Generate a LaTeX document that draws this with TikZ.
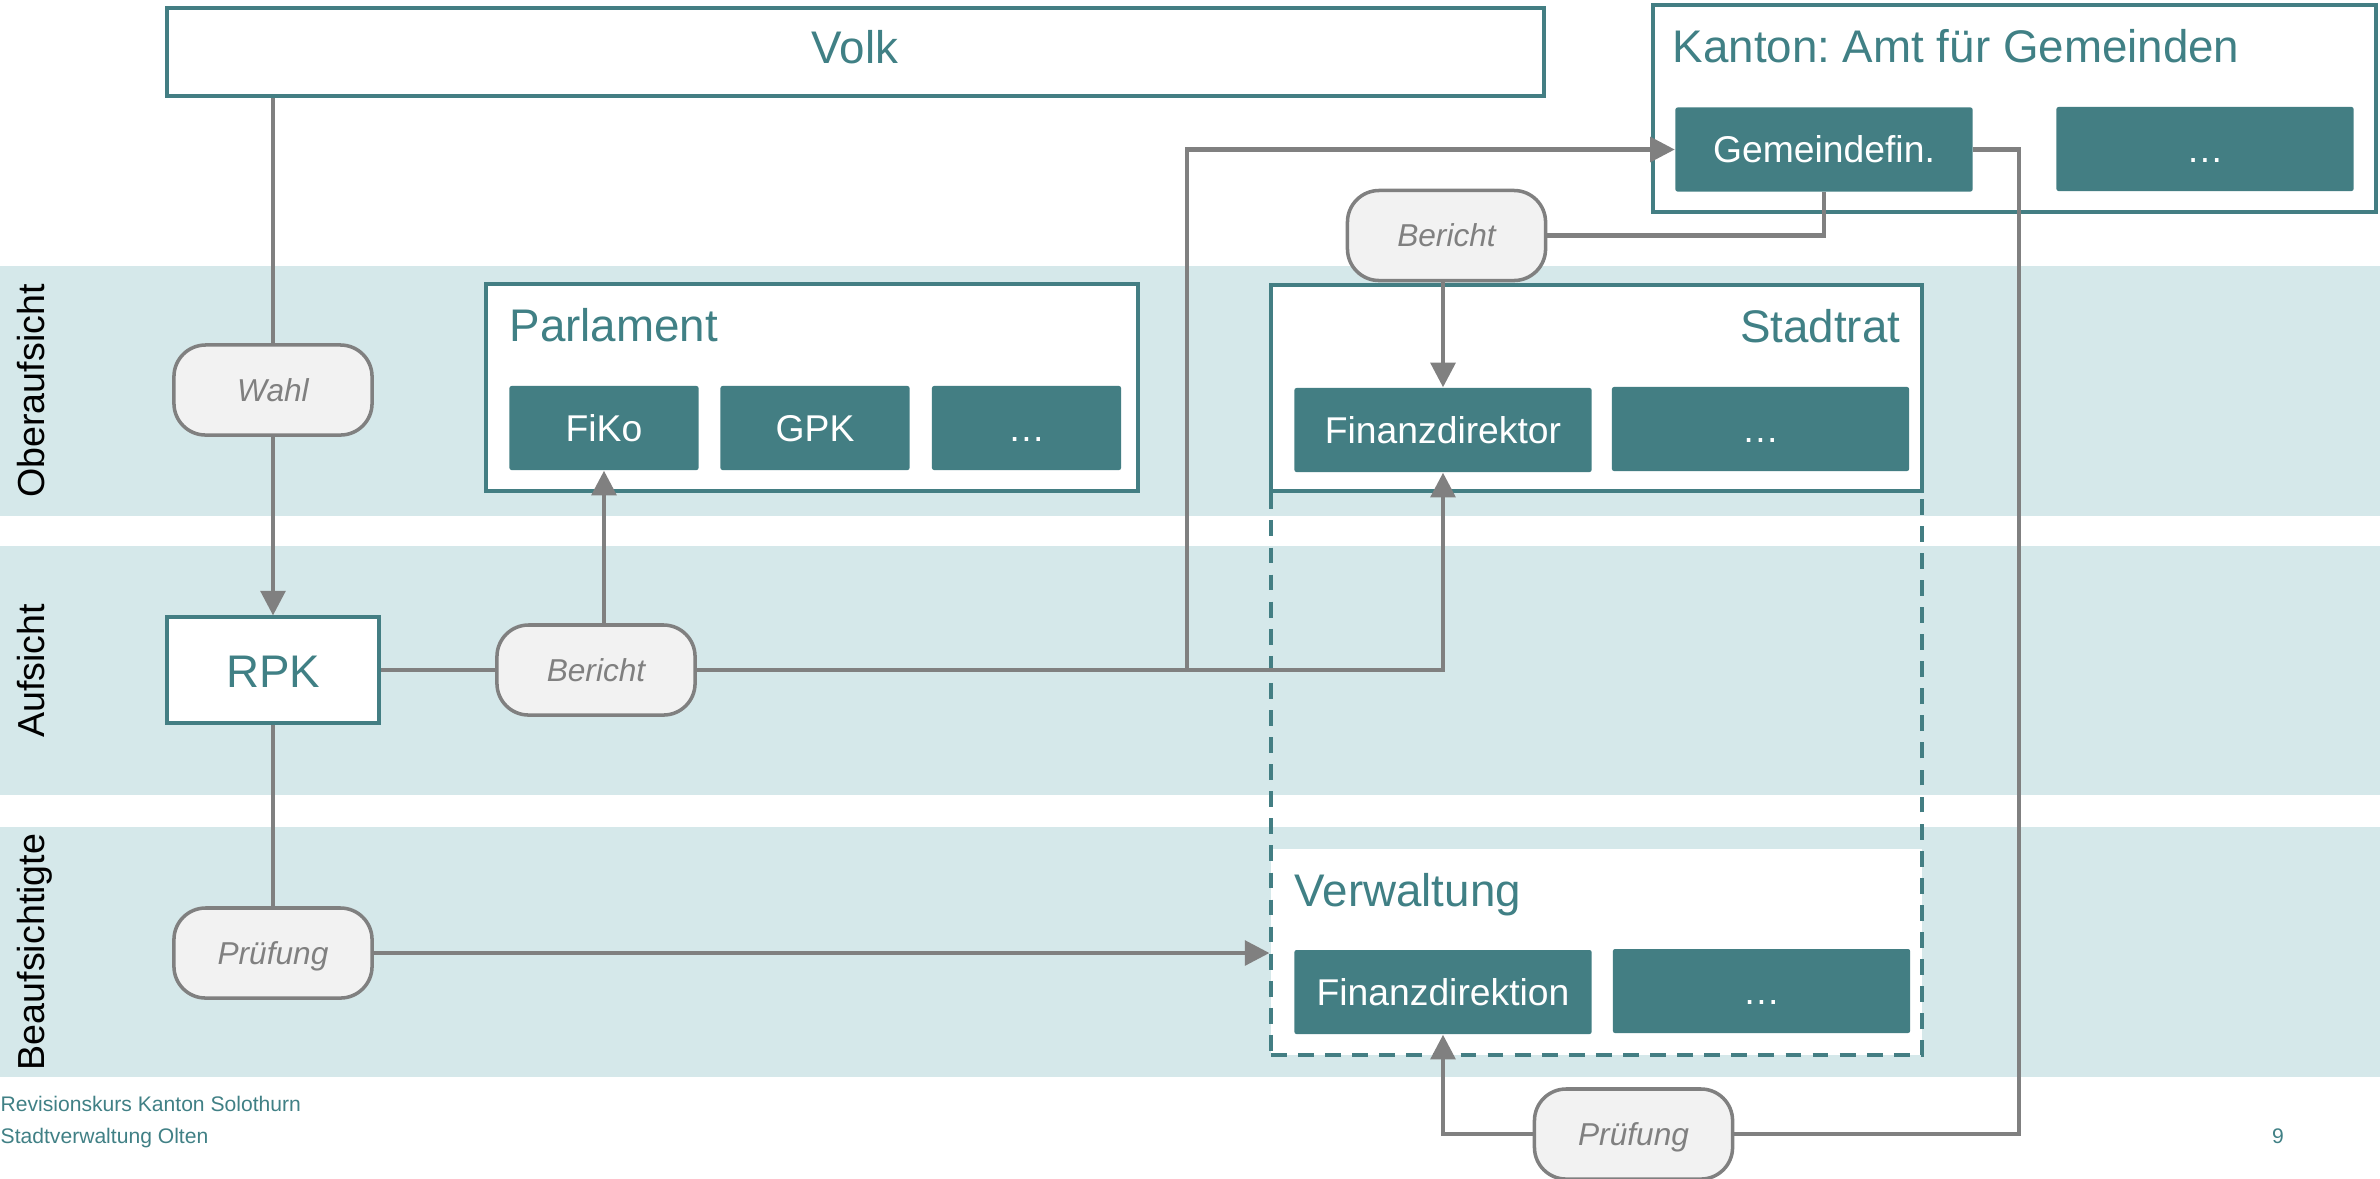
\documentclass[tikz,border=0pt]{standalone}
\usepackage{fontspec}
\setmainfont{Liberation Sans}
\frenchspacing
\usetikzlibrary{arrows.meta,fit}
\definecolor{bandc}{RGB}{213,232,234}
\definecolor{tealf}{RGB}{67,126,131}
\definecolor{tealt}{RGB}{64,128,133}
\definecolor{grayl}{RGB}{128,128,128}
\definecolor{bubf}{RGB}{242,242,242}
\begin{document}
\begin{tikzpicture}[x=0.01cm,y=-0.01cm,
  frame/.style={draw=tealf, line width=0.9pt, fill=white, inner sep=0pt},
  tbox/.style={fill=tealf, draw=none, rounded corners=0.6pt, inner sep=0pt, text=white,
    font=\fontsize{10.6}{12}\selectfont, text height=7.6pt, text depth=0pt,
    minimum width=2.97cm, minimum height=0.84cm},
  sbox/.style={tbox, minimum width=1.89cm},
  bubble/.style={draw=grayl, fill=bubf, line width=1pt, rounded corners=9pt,
    minimum width=1.98cm, minimum height=0.9cm, inner sep=0pt, text=grayl,
    font=\fontsize{9}{11}\selectfont\itshape, text height=6.45pt, text depth=0pt},
  title/.style={text=tealt, font=\fontsize{13}{15}\selectfont, inner sep=0pt},
  side/.style={rotate=90, font=\fontsize{10.7}{12}\selectfont, inner sep=0pt,
    text height=7.66pt, text depth=0pt},
  foot/.style={text=tealt, font=\fontsize{6}{7}\selectfont, inner sep=0pt},
  conn/.style={draw=grayl, line width=1.2pt},
  arr/.style={conn, -{Triangle[length=7pt,width=7pt]}}
]
\useasboundingbox (0,0) rectangle (2380,1178);
% bands
\fill[bandc] (0,266) rectangle (2380,516);
\fill[bandc] (0,546) rectangle (2380,795);
\fill[bandc] (0,827) rectangle (2380,1077);
\node[side] (lob) at (31.5,391) {Oberaufsicht};
\node[side] (lauf) at (31.5,671) {Aufsicht};
\node[side] (lbea) at (31.5,952) {Beaufsichtigte};

% Volk
\node[frame, fit={(167,8)(1544,96)}] (volk) {};
\node[title, anchor=base] (volkt) at (855,63) {Volk};

% Kanton
\node[frame, fit={(1653,5)(2376,212)}] (kanton) {};
\node[title, anchor=base west] (kantont) at (1672,62) {Kanton: Amt für Gemeinden};
\node[tbox] (gemfin) at (1824,149.5) {Gemeindefin.};
\node[tbox] (kdots) at (2205,149) {…};

% Parlament
\node[frame, fit={(486,284)(1138,491)}] (parl) {};
\node[title, anchor=base west] (parlt) at (509,341) {Parlament};
\node[sbox] (fiko) at (604,428) {FiKo};
\node[sbox] (gpk) at (815,428) {GPK};
\node[sbox] (pdots) at (1026.5,428) {…};

% Stadtrat
\node[frame, fit={(1271,285)(1922,491)}] (stadt) {};
\node[title, anchor=base east] (stadtt) at (1901,342) {Stadtrat};
\node[tbox] (findir) at (1443,430) {Finanzdirektor};
\node[tbox] (sdots) at (1760.5,429) {…};

% Verwaltung
\fill[white] (1271,849) rectangle (1922,1055);
\node[draw=tealf, line width=0.9pt, dash pattern=on 4.5pt off 3.2pt, inner sep=0pt,
  fit={(1271,491)(1922,1055)}] (dashbox) {};
\node[title, anchor=base west] (verwt) at (1294,906) {Verwaltung};
\node[tbox] (findion) at (1443,992) {Finanzdirektion};
\node[tbox] (vdots) at (1761.5,991) {…};

% RPK
\node[frame, fit={(167,617)(379,723)}] (rpk) {};
\node[title, anchor=base] (rpkt) at (273,687) {RPK};

% bubbles
\node[bubble] (wahl) at (273,390) {Wahl};
\node[bubble] (ber1) at (596,670) {Bericht};
\node[bubble] (ber2) at (1446.5,235.5) {Bericht};
\node[bubble] (pruef1) at (273,953) {Prüfung};
\node[bubble] (pruef2) at (1633.5,1134) {Prüfung};

% connectors
\draw[conn] (volk.south -| wahl.north) -- (wahl.north);
\draw[arr] (wahl.south) -- (rpk.north);
\draw[conn] (rpk.south) -- (pruef1.north);
\draw[arr] (pruef1.east) -- (pruef1.east -| dashbox.west);
\draw[conn] (rpk.east) -- (ber1.west);
\draw[arr] (ber1.north -| fiko.south) -- (fiko.south);
\draw[arr] (ber1.east) -| (findir.south);
\coordinate (j1) at ([xshift=4.9cm]ber1.east);
\draw[arr] (j1) |- (gemfin.west);
\draw[conn] (gemfin.south) |- (ber2.east);
\draw[arr] (ber2.south -| findir.north) -- (findir.north);
\draw[conn] (gemfin.east) -- ++(46,0) |- (pruef2.east);
\draw[arr] (pruef2.west) -| (findion.south);

% footer
\node[foot, anchor=base west] (f1) at (0,1111) {Revisionskurs Kanton Solothurn};
\node[foot, anchor=base west] (f2) at (0,1143) {Stadtverwaltung Olten};
\node[foot, anchor=base] (pnum) at (2278,1143) {9};
\end{tikzpicture}
\end{document}
